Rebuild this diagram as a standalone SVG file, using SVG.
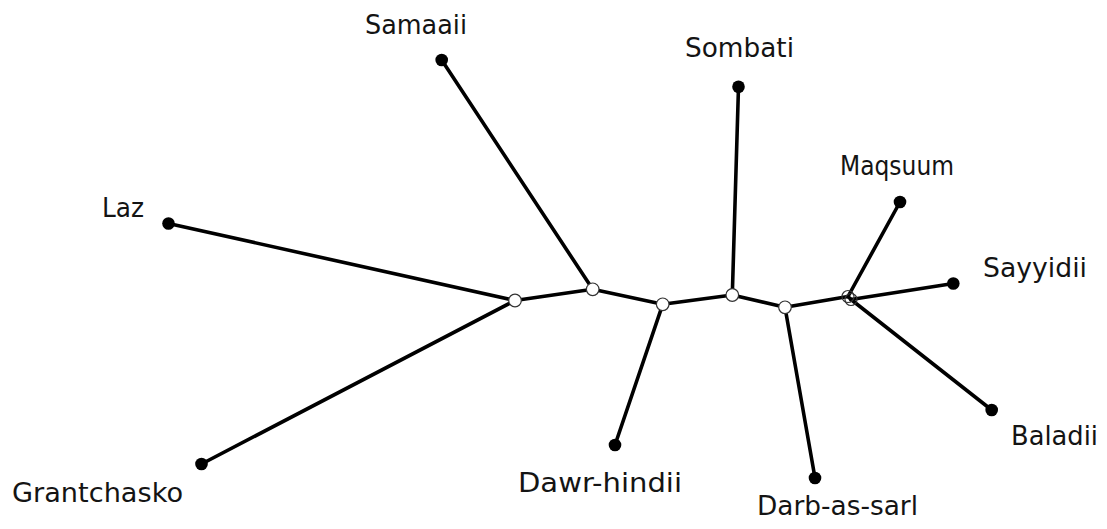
<svg xmlns="http://www.w3.org/2000/svg" width="1107" height="529" viewBox="0 0 1107 529">
<style>
.e{stroke:#000;stroke-width:3.6;stroke-linecap:round;fill:none}
.leaf{fill:#000}
.inner{fill:#fff;stroke:#333;stroke-width:1.2}
text{font-family:"DejaVu Sans","Liberation Sans",sans-serif;font-size:27px;fill:#141414}
</style>
<rect width="1107" height="529" fill="#fff"/>
<g id="edges">
<line class="e" x1="515" y1="300.5" x2="168.5" y2="223.5"/>
<line class="e" x1="515" y1="300.5" x2="201.5" y2="464"/>
<line class="e" x1="515" y1="300.5" x2="592.7" y2="289.3"/>
<line class="e" x1="592.7" y1="289.3" x2="441.7" y2="60"/>
<line class="e" x1="592.7" y1="289.3" x2="662.7" y2="304.3"/>
<line class="e" x1="662.7" y1="304.3" x2="615" y2="445"/>
<line class="e" x1="662.7" y1="304.3" x2="732.3" y2="295"/>
<line class="e" x1="732.3" y1="295" x2="738.5" y2="86.7"/>
<line class="e" x1="732.3" y1="295" x2="785" y2="307.3"/>
<line class="e" x1="785" y1="307.3" x2="815" y2="478"/>
<line class="e" x1="785" y1="307.3" x2="848" y2="296.5"/>
<line class="e" x1="848" y1="296.5" x2="900" y2="202"/>
<line class="e" x1="848" y1="296.5" x2="851" y2="299.5"/>
<line class="e" x1="851" y1="299.5" x2="953.3" y2="283.5"/>
<line class="e" x1="851" y1="299.5" x2="991.7" y2="410"/>
</g>
<g id="n_internal_1"><circle class="inner" cx="515" cy="300.5" r="6.3"/></g>
<g id="n_internal_2"><circle class="inner" cx="592.7" cy="289.3" r="6.3"/></g>
<g id="n_internal_3"><circle class="inner" cx="662.7" cy="304.3" r="6.3"/></g>
<g id="n_internal_4"><circle class="inner" cx="732.3" cy="295" r="6.3"/></g>
<g id="n_internal_5"><circle class="inner" cx="785" cy="307.3" r="6.3"/></g>
<g id="n_internal_6"><circle class="inner" cx="848" cy="296.5" r="6" fill-opacity="0"/></g>
<g id="n_internal_7"><circle class="inner" cx="851" cy="299.5" r="6" fill-opacity="0"/></g>
<g id="n_laz"><circle class="leaf" cx="168.5" cy="223.5" r="6.3"/><text x="102" y="217" textLength="42" lengthAdjust="spacingAndGlyphs">Laz</text></g>
<g id="n_grantchasko"><circle class="leaf" cx="201.5" cy="464" r="6.3"/><text x="12" y="502" textLength="171" lengthAdjust="spacingAndGlyphs">Grantchasko</text></g>
<g id="n_samaaii"><circle class="leaf" cx="441.7" cy="60" r="6.3"/><text x="365" y="34" textLength="102" lengthAdjust="spacingAndGlyphs">Samaaii</text></g>
<g id="n_dawr"><circle class="leaf" cx="615" cy="445" r="6.3"/><text x="518" y="492" textLength="164" lengthAdjust="spacingAndGlyphs">Dawr-hindii</text></g>
<g id="n_sombati"><circle class="leaf" cx="738.5" cy="86.7" r="6.3"/><text x="685" y="57" textLength="109" lengthAdjust="spacingAndGlyphs">Sombati</text></g>
<g id="n_darb"><circle class="leaf" cx="815" cy="478" r="6.3"/><text x="757" y="515" textLength="161" lengthAdjust="spacingAndGlyphs">Darb-as-sarl</text></g>
<g id="n_maqsuum"><circle class="leaf" cx="900" cy="202" r="6.3"/><text x="840" y="175" textLength="114" lengthAdjust="spacingAndGlyphs">Maqsuum</text></g>
<g id="n_sayyidii"><circle class="leaf" cx="953.3" cy="283.5" r="6.3"/><text x="983" y="277" textLength="104" lengthAdjust="spacingAndGlyphs">Sayyidii</text></g>
<g id="n_baladii"><circle class="leaf" cx="991.7" cy="410" r="6.3"/><text x="1011" y="445" textLength="87" lengthAdjust="spacingAndGlyphs">Baladii</text></g>
</svg>
